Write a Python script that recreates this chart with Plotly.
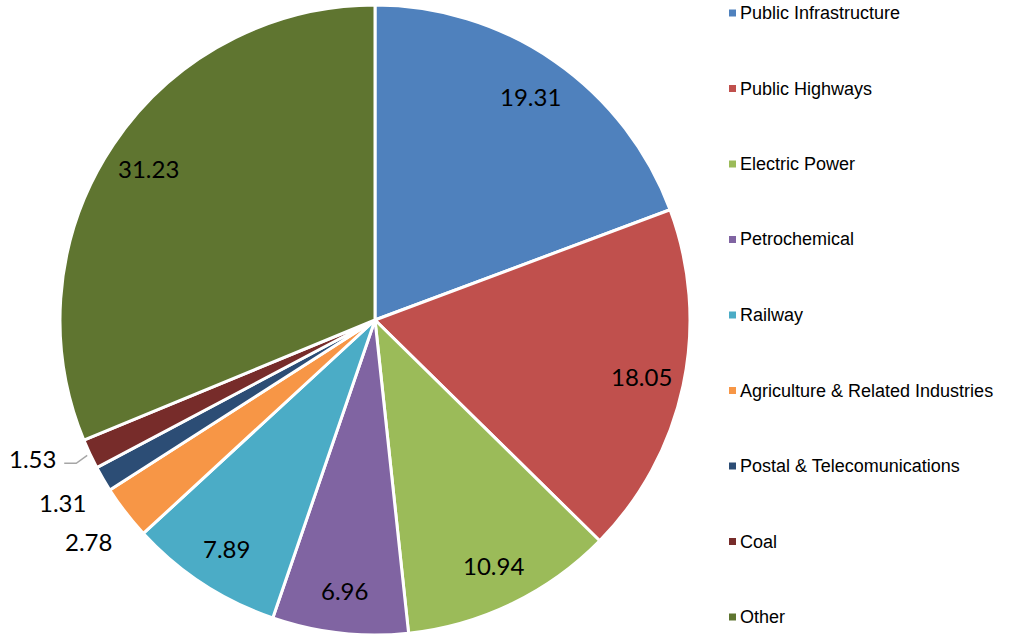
import math
import plotly.graph_objects as go

categories = ["Public Infrastructure", "Public Highways", "Electric Power", "Petrochemical",
              "Railway", "Agriculture & Related Industries", "Postal & Telecomunications",
              "Coal", "Other"]
values = [19.31, 18.05, 10.94, 6.96, 7.89, 2.78, 1.31, 1.53, 31.23]
colors = ["#4F81BD", "#C0504D", "#9BBB59", "#8064A2", "#4BACC6", "#F79646",
          "#2C4D75", "#772C2A", "#5F7530"]

W, H = 1009, 635
CX, CY, R = 375, 320, 315  # pie centre / radius in px

fig = go.Figure(go.Pie(
    labels=categories, values=values, sort=False, direction="clockwise", rotation=0,
    marker=dict(colors=colors, line=dict(color="white", width=3)),
    textinfo="none", hoverinfo="label+value", showlegend=False,
    domain=dict(x=[(CX - R) / W, (CX + R) / W],
                y=[max(0, 1 - (CY + R) / H), min(1, 1 - (CY - R) / H)]),
))

annotations = []
shapes = []
total = sum(values)
cum = 0.0
for i, v in enumerate(values):
    mid = (cum + v / 2) / total * 2 * math.pi
    cum += v
    small = v < 3
    rr = R * (1.15 if small else 0.865)
    px = CX + rr * math.sin(mid)
    py = CY - rr * math.cos(mid)
    if categories[i] == "Coal":
        ex = CX + (R + 3) * math.sin(mid)
        ey = CY - (R + 3) * math.cos(mid)
        kx, ky = ex - 11, ey + 8
        lx = kx - 12
        shapes.append(dict(type="path", xref="paper", yref="paper",
                           path=f"M {ex/W} {1-ey/H} L {kx/W} {1-ky/H} L {lx/W} {1-ky/H}",
                           line=dict(color="#A6A6A6", width=1.5)))
        px, py = lx - 32, ky - 5
    annotations.append(dict(x=px / W, y=1 - py / H, xref="paper", yref="paper",
                            text=f"{v:.2f}", showarrow=False,
                            xanchor="center", yanchor="middle",
                            font=dict(family="Lato, Carlito, sans-serif", size=24, color="black")))

leg_y0, leg_dy = 13, 75.5
for i, (c, col) in enumerate(zip(categories, colors)):
    y = leg_y0 + i * leg_dy
    shapes.append(dict(type="rect", xref="paper", yref="paper",
                       x0=729 / W, x1=736 / W,
                       y0=1 - (y + 3.5) / H, y1=1 - (y - 3.5) / H,
                       fillcolor=col, line=dict(width=0)))
    annotations.append(dict(x=738 / W, y=1 - y / H, xref="paper", yref="paper",
                            text=c, showarrow=False, xanchor="left", yanchor="middle",
                            font=dict(family="Liberation Sans, Arial, sans-serif", size=18,
                                      color="black")))

fig.update_layout(
    width=W, height=H, margin=dict(l=0, r=0, t=0, b=0),
    paper_bgcolor="white", plot_bgcolor="white",
    annotations=annotations, shapes=shapes,
)
fig.write_html("out.html", config={"displayModeBar": False},
               post_script="document.body.style.margin='0px';"
                           "document.documentElement.style.overflow='hidden';")
